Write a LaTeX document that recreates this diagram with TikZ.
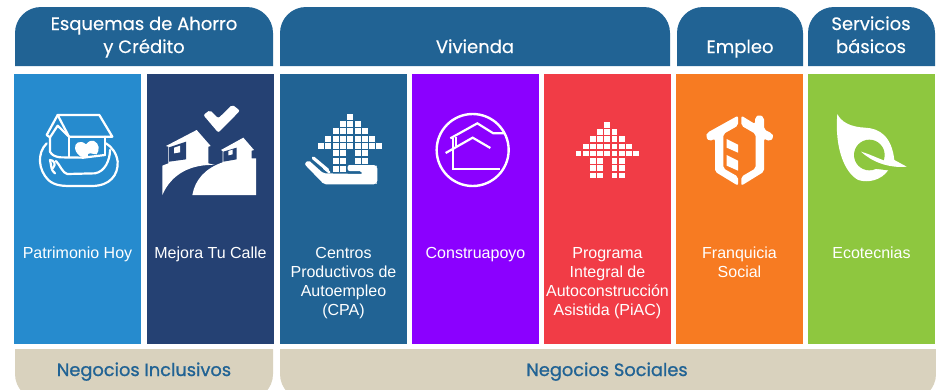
\documentclass[tikz,border=0pt]{standalone}
\usepackage{fontspec}
\setmainfont{Liberation Sans}
\newfontfamily\hdrfont[FakeBold=0.4]{Poppins}
\newfontfamily\footfont[FakeBold=1]{Poppins}
\definecolor{cblue}{HTML}{268BCE}
\definecolor{cnavy}{HTML}{254173}
\definecolor{cteal}{HTML}{216394}
\definecolor{cpurple}{HTML}{8B00FF}
\definecolor{cred}{HTML}{F13C46}
\definecolor{corange}{HTML}{F77B22}
\definecolor{cgreen}{HTML}{8EC73F}
\definecolor{cbeige}{HTML}{D9D2BE}
\newcommand{\topband}[2]{\fill[cteal] (#1,66) [rounded corners=26pt] -- (#1,7) -- (#2,7) [sharp corners] -- (#2,66) -- cycle;}
\newcommand{\botband}[2]{\fill[cbeige] (#1,349) [rounded corners=26pt] -- (#1,400) -- (#2,400) [sharp corners] -- (#2,349) -- cycle;}
\tikzset{
  panel/.style={inner sep=0pt,outer sep=0pt,minimum width=127pt,minimum height=270pt,anchor=north west},
  paneltext/.style={text=white,font=\fontsize{16}{19}\selectfont,anchor=base,inner sep=0pt},
  headtext/.style={text=white,font=\hdrfont\fontsize{18}{24}\selectfont,anchor=base,inner sep=0pt},
  foottext/.style={text=cteal,font=\footfont\fontsize{17.8}{20}\selectfont,anchor=base,inner sep=0pt},
  zoomed/.style={x=.33333pt,y=-.33333pt},
  ico/.style={draw=white,line join=round,line cap=round},
  dot/.style={fill=white}
}
\begin{document}
\begin{tikzpicture}[x=1pt,y=-1pt]
\path[use as bounding box,clip] (0,0) rectangle (936,389);
\fill[white] (0,0) rectangle (936,389);
% top bands
\topband{15}{273}
\topband{280}{670}
\topband{677}{803}
\topband{808}{935}
\node[headtext] (h1a) at (144,30) {Esquemas de Ahorro};
\node[headtext] (h1b) at (144,53) {y Crédito};
\node[headtext] (h2) at (475,53) {Vivienda};
\node[headtext] (h3) at (740,53) {Empleo};
\node[headtext] (h4a) at (871,30) {Servicios};
\node[headtext] (h4b) at (871,53) {básicos};
% panels
\node[panel,fill=cblue] (p1) at (14,74) {};
\node[panel,fill=cnavy] (p2) at (147,74) {};
\node[panel,fill=cteal] (p3) at (280,74) {};
\node[panel,fill=cpurple] (p4) at (412,74) {};
\node[panel,fill=cred] (p5) at (544,74) {};
\node[panel,fill=corange] (p6) at (676,74) {};
\node[panel,fill=cgreen] (p7) at (808,74) {};
% panel labels
\node[paneltext] (t1) at (77.5,258) {Patrimonio Hoy};
\node[paneltext] (t2) at (210.5,258) {Mejora Tu Calle};
\node[paneltext] (t3a) at (343.5,258) {Centros};
\node[paneltext] (t3b) at (343.5,277) {Productivos de};
\node[paneltext] (t3c) at (343.5,296) {Autoempleo};
\node[paneltext] (t3d) at (343.5,315) {(CPA)};
\node[paneltext] (t4) at (475.5,258) {Construapoyo};
\node[paneltext] (t5a) at (607.5,258) {Programa};
\node[paneltext] (t5b) at (607.5,277) {Integral de};
\node[paneltext] (t5c) at (607.5,296) {Autoconstrucción};
\node[paneltext] (t5d) at (607.5,315) {Asistida (PiAC)};
\node[paneltext] (t6a) at (739.5,258) {Franquicia};
\node[paneltext] (t6b) at (739.5,277) {Social};
\node[paneltext] (t7) at (871.5,258) {Ecotecnias};
% bottom bands
\botband{15}{273}
\botband{280}{936}
\node[foottext] (f1) at (144,376) {Negocios Inclusivos};
\node[foottext] (f2) at (607,376) {Negocios Sociales};
% ark icon
\begin{scope}[shift={(30,105)},zoomed]
 \begin{scope}[ico,line width=2.2pt]
 \draw (83,30) -- (208,30) -- (247,95) -- (117,95) -- cycle;
 \draw (83,30) -- (50,90) -- (60,97) -- (83,62) -- (117,95);
 \draw (60,97) -- (60,140) .. controls (65,150) and (75,155) .. (90,157) -- (160,158);
 \draw (117,95) -- (117,155);
 \draw (225,95) -- (225,150);
 \draw (50,115) .. controls (20,145) and (25,195) .. (55,225) .. controls (75,243) and (100,243) .. (130,243) -- (185,243) .. controls (240,243) and (265,210) .. (263,170) .. controls (260,145) and (245,125) .. (228,115);
 \draw (60,165) .. controls (72,165) and (80,178) .. (68,190);
 \draw (60,165) .. controls (65,185) and (62,195) .. (75,205) ;
 \draw (78,168) .. controls (90,180) and (98,205) .. (112,207) -- (195,205) .. controls (225,200) and (240,165) .. (240,135);
 \draw (160,158) -- (225,150);
 \end{scope}
 \fill[white] (168,118) .. controls (150,102) and (133,115) .. (135,130) .. controls (137,142) and (145,150) .. (152,155) -- (178,157) .. controls (170,150) and (172,145) .. (182,145) .. controls (192,145) and (195,150) .. (200,148) .. controls (210,135) and (208,115) .. (192,108) .. controls (180,105) and (172,112) .. (168,118) -- cycle;
\end{scope}
% hills icon
\begin{scope}[shift={(155,100)},zoomed]
 \fill[white,rounded corners=2pt] (145,45) -- (165,30) -- (190,55) -- (232,14) -- (255,32) -- (190,98) -- cycle;
 \fill[white] (33,138) -- (125,90) -- (167,138) -- (160,140) -- (160,190) -- (180,195) .. controls (110,192) and (50,220) .. (22,285) -- (22,197) -- (40,190) -- (40,140) -- cycle;
 \fill[cnavy] (42,142) -- (93,125) -- (93,178) -- (42,185) -- cycle;
 \fill[white] (57,143) -- (75,137) -- (75,157) -- (57,160) -- cycle;
 \fill[white] (198,150) -- (265,113) -- (297,150) -- (290,152) -- (290,175) -- (303,175) -- (303,285) -- (112,285) .. controls (120,240) and (150,205) .. (203,187) -- (203,153) -- cycle;
 \fill[cnavy] (205,155) -- (245,143) -- (245,178) -- (205,185) -- cycle;
 \fill[white] (220,153) -- (233,149) -- (233,163) -- (220,166) -- cycle;
\end{scope}
% hand icon with dots
\begin{scope}[shift={(280,90)},zoomed]
 \foreach \yy/\xs in {80/{210},101/{190,210,233},122/{168,190,210,233,255},146/{145,168,190,210,233,255,277},167/{122,145,168,190,210,233,255,277,297},190/{168,190,233,255},212/{168,190,233,255},236/{168,190}}{
   \foreach \xx in \xs { \fill[dot] (\xx-9,\yy-9) rectangle (\xx+9,\yy+9); }
 }
 \fill[white,rounded corners=2pt] (73,222) -- (85,210) -- (130,250) -- (248,252) -- (245,243) -- (203,243) -- (203,225) -- (287,225) -- (292,230) -- (292,278) -- (287,283) -- (132,283) -- cycle;
 \draw[ico,line width=3.2pt] (100,204) -- (143,240);
 \draw[ico,line width=2.4pt] (132,234) -- (148,247);
\end{scope}
% circle house icon
\begin{scope}[shift={(280,90)},zoomed]
 \draw[ico,line width=2.4pt] (578,180) circle[radius=108];
 \draw[ico,line width=2.2pt,line cap=butt,line join=miter] (511,145) -- (592,100) -- (640,130) -- (672,130);
 \draw[ico,line width=2.2pt,line cap=butt,line join=miter] (497,189) -- (578,143) -- (631,174);
 \draw[ico,line width=2.2pt,line cap=butt,line join=miter] (518,145) -- (518,238) -- (660,238);
 \draw[ico,line width=2.2pt,line cap=butt] (528,140) -- (528,168);
\end{scope}
% red arrow dots
\begin{scope}[shift={(280,90)},zoomed]
 \foreach \yy/\xs in {104/{981},125/{960,981,1003},147/{938,960,981,1003,1025},169/{917,938,960,981,1003,1025,1046},190/{895,917,938,960,981,1003,1025,1046,1068},212/{938,960,1003,1025},234/{938,960,1003,1025},256/{938,960,1003,1025}}{
   \foreach \xx in \xs { \fill[dot] (\xx-8.5,\yy-8.5) rectangle (\xx+8.5,\yy+8.5); }
 }
\end{scope}
% franchise icon
\begin{scope}[shift={(670,0)},zoomed]
 \fill[white,rounded corners=2pt] (204,347) -- (112,398) -- (107,410) -- (118,424) -- (135,416) -- (135,515) -- (204,557) -- (204,530) -- (160,505) -- (160,402) -- (204,377) -- cycle;
 \fill[white] (170,417) -- (204,434) -- (204,458) -- (170,443) -- cycle;
 \fill[white] (170,465) -- (204,482) -- (204,512) -- (170,497) -- cycle;
 \fill[white,rounded corners=2pt] (214,347) -- (255,372) -- (255,352) -- (268,344) -- (282,352) -- (282,388) -- (305,400) -- (312,410) -- (300,424) -- (282,416) -- (282,515) -- (214,557) -- (214,530) -- (257,505) -- (257,402) -- (214,377) -- cycle;
\end{scope}
% leaf icon
\begin{scope}[shift={(825,105)},zoomed]
 \fill[white] (37,27) .. controls (48,50) and (75,66) .. (120,68) .. controls (165,70) and (200,95) .. (208,165) -- (245,185) -- (190,182) -- (190,195) .. controls (170,225) and (130,235) .. (100,225) .. controls (60,205) and (28,130) .. (37,27) -- cycle;
 \fill[cgreen] (133,150) circle[radius=46];
 \fill[cgreen] (140,170) -- (205,178) -- (190,196) -- (140,190) -- cycle;
 \fill[white] (108,140) .. controls (145,150) and (175,172) .. (245,185) .. controls (190,190) and (140,170) .. (108,140) -- cycle;
\end{scope}
\end{tikzpicture}
\end{document}
